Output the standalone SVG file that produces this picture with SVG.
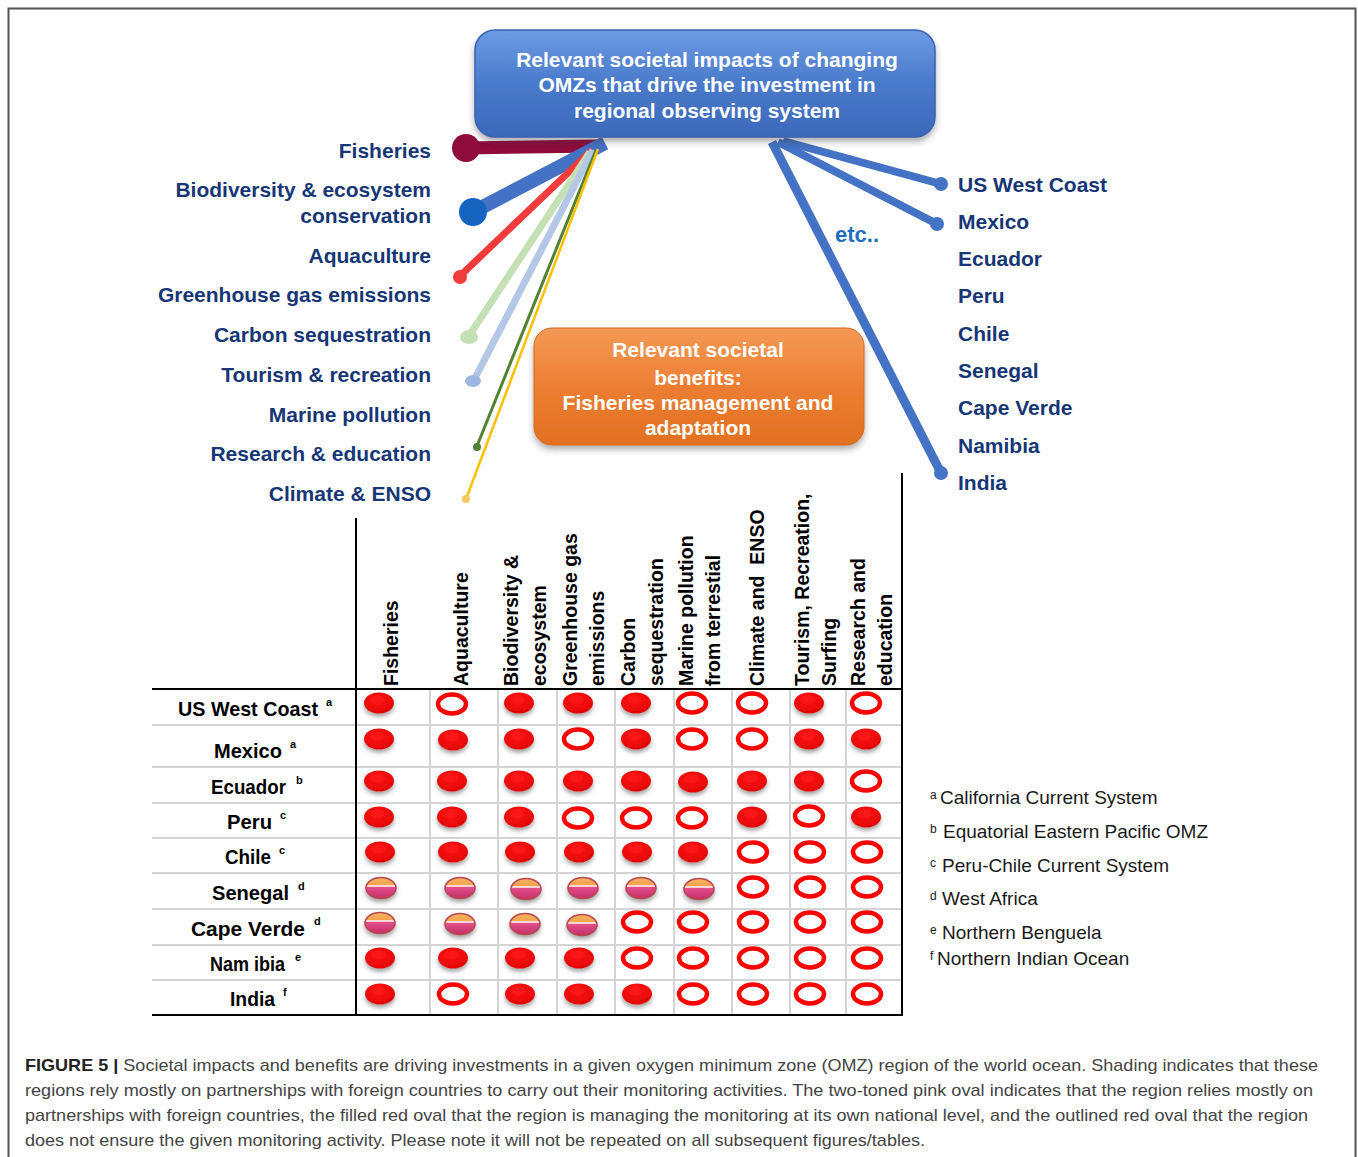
<svg xmlns="http://www.w3.org/2000/svg" xmlns:xlink="http://www.w3.org/1999/xlink" width="1358" height="1157" viewBox="0 0 1358 1157">
<defs>
<style>
.lab{font-family:"Liberation Sans",Arial,sans-serif;font-weight:bold;font-size:21px;fill:#173676}
.box{font-family:"Liberation Sans",Arial,sans-serif;font-weight:bold;font-size:21px;fill:#ffffff;text-anchor:middle}
.hd{font-family:"Liberation Sans",Arial,sans-serif;font-weight:bold;font-size:19.5px;fill:#000}
.row{font-family:"Liberation Sans",Arial,sans-serif;font-weight:bold;font-size:21px;fill:#000}
.sup{font-family:"Liberation Sans",Arial,sans-serif;font-weight:bold;font-size:11px;fill:#000}
.fn{font-family:"Liberation Sans",Arial,sans-serif;font-size:19px;fill:#1a1a1a}
.fns{font-family:"Liberation Sans",Arial,sans-serif;font-size:12px;fill:#1a1a1a}
.cap{font-family:"Liberation Sans",Arial,sans-serif;font-size:17px;fill:#444}
.grid{stroke:#d4d4d4;stroke-width:2}
.rule{stroke:#000;stroke-width:2}
</style>
<linearGradient id="gBlue" x1="0" y1="0" x2="0" y2="1">
<stop offset="0" stop-color="#6C9BE3"/><stop offset="0.5" stop-color="#4A7ACB"/><stop offset="1" stop-color="#3C68BA"/>
</linearGradient>
<linearGradient id="gOr" x1="0" y1="0" x2="0" y2="1">
<stop offset="0" stop-color="#F39A55"/><stop offset="0.5" stop-color="#EC7E33"/><stop offset="1" stop-color="#E2701F"/>
</linearGradient>
<linearGradient id="gPink" x1="0" y1="0" x2="0" y2="1">
<stop offset="0" stop-color="#F4B460"/><stop offset="0.36" stop-color="#F3A24C"/>
<stop offset="0.37" stop-color="#FCE0E0"/><stop offset="0.45" stop-color="#F8C9D2"/>
<stop offset="0.46" stop-color="#E3508A"/><stop offset="1" stop-color="#C42E66"/>
</linearGradient>
<radialGradient id="gRed" cx="0.45" cy="0.35" r="0.7">
<stop offset="0" stop-color="#FF1A1A"/><stop offset="1" stop-color="#E00000"/>
</radialGradient>
<filter id="sh" x="-30%" y="-30%" width="160%" height="180%">
<feDropShadow dx="0" dy="3" stdDeviation="2" flood-color="#555" flood-opacity="0.55"/>
</filter>
<filter id="bsh" x="-10%" y="-20%" width="120%" height="150%">
<feDropShadow dx="0" dy="4" stdDeviation="3" flood-color="#333" flood-opacity="0.4"/>
</filter>
<g id="F"><ellipse cx="0" cy="0" rx="15" ry="10.5" fill="url(#gRed)" filter="url(#sh)"/></g>
<g id="O"><ellipse cx="0" cy="0" rx="14" ry="9.5" fill="#fff" stroke="#FF0000" stroke-width="4.5"/></g>
<g id="P"><ellipse cx="0" cy="0" rx="15" ry="10.5" fill="url(#gPink)" stroke="#B84650" stroke-width="1.5" filter="url(#sh)"/></g>
</defs>
<rect x="0" y="0" width="1358" height="1157" fill="#fff"/>
<rect x="8.5" y="8.5" width="1347" height="1170" fill="none" stroke="#555" stroke-width="2"/>

<g id="connectors">
<line x1="466" y1="148" x2="598" y2="146" stroke="#8E0B3C" stroke-width="13"/>
<circle cx="466" cy="148" r="14" fill="#8E0B3C"/>
<line x1="605" y1="143" x2="473" y2="212" stroke="#4472C4" stroke-width="14"/>
<circle cx="473" cy="212" r="14" fill="#1565C0"/>
<line x1="592" y1="150" x2="460" y2="276" stroke="#F23B3B" stroke-width="7"/>
<circle cx="460" cy="277" r="7" fill="#F23B3B"/>
<line x1="590" y1="152" x2="469" y2="336" stroke="#C5E0B4" stroke-width="7"/>
<ellipse cx="469" cy="337" rx="9" ry="7" fill="#C5E0B4"/>
<line x1="593" y1="150" x2="474" y2="380" stroke="#B4C7E7" stroke-width="7"/>
<ellipse cx="473" cy="381" rx="8" ry="6" fill="#9FB6E0"/>
<line x1="596" y1="150" x2="477" y2="446" stroke="#548235" stroke-width="3"/>
<circle cx="477" cy="447" r="4" fill="#548235"/>
<line x1="598" y1="149" x2="466" y2="499" stroke="#FFC000" stroke-width="2.5"/>
<circle cx="466" cy="499" r="4" fill="#F8C860"/>
<line x1="783" y1="141" x2="941" y2="184" stroke="#4472C4" stroke-width="8"/>
<circle cx="941" cy="184" r="7" fill="#4472C4"/>
<line x1="778" y1="142" x2="937" y2="224" stroke="#4472C4" stroke-width="8"/>
<circle cx="937" cy="224" r="7" fill="#4472C4"/>
<line x1="772" y1="142" x2="941" y2="473" stroke="#4472C4" stroke-width="9"/>
<circle cx="941" cy="473" r="7" fill="#4472C4"/>
</g>

<g id="impacts-box">
<rect x="475" y="30" width="460" height="107" rx="20" fill="url(#gBlue)" stroke="#3A63B0" stroke-width="1.5" filter="url(#bsh)"/>
<text class="box" x="707" y="67">Relevant societal impacts of changing</text>
<text class="box" x="707" y="92">OMZs that drive the investment in</text>
<text class="box" x="707" y="118">regional observing system</text>
</g>

<g id="benefits-box">
<rect x="534" y="328" width="330" height="117" rx="18" fill="url(#gOr)" stroke="#D46A1C" stroke-width="1" filter="url(#bsh)"/>
<text class="box" x="698" y="357">Relevant societal</text>
<text class="box" x="698" y="385">benefits:</text>
<text class="box" x="698" y="410">Fisheries management and</text>
<text class="box" x="698" y="435">adaptation</text>
</g>

<g id="impact-labels" text-anchor="end">
<text class="lab" x="431" y="158">Fisheries</text>
<text class="lab" x="431" y="197">Biodiversity &amp; ecosystem</text>
<text class="lab" x="431" y="223">conservation</text>
<text class="lab" x="431" y="263">Aquaculture</text>
<text class="lab" x="431" y="302">Greenhouse gas emissions</text>
<text class="lab" x="431" y="342">Carbon sequestration</text>
<text class="lab" x="431" y="382">Tourism &amp; recreation</text>
<text class="lab" x="431" y="422">Marine pollution</text>
<text class="lab" x="431" y="461">Research &amp; education</text>
<text class="lab" x="431" y="501">Climate &amp; ENSO</text>
</g>

<g id="region-labels">
<text class="lab" x="958" y="192">US West Coast</text>
<text class="lab" x="958" y="229">Mexico</text>
<text class="lab" x="958" y="266">Ecuador</text>
<text class="lab" x="958" y="303">Peru</text>
<text class="lab" x="958" y="341">Chile</text>
<text class="lab" x="958" y="378">Senegal</text>
<text class="lab" x="958" y="415">Cape Verde</text>
<text class="lab" x="958" y="453">Namibia</text>
<text class="lab" x="958" y="490">India</text>
<text x="835" y="242" font-family="Liberation Sans, Arial, sans-serif" font-weight="bold" font-size="22" fill="#1F6FC0">etc..</text>
</g>

<g id="table">
<g class="grid">
<line x1="152" y1="725" x2="902" y2="725"/>
<line x1="152" y1="767" x2="902" y2="767"/>
<line x1="152" y1="803" x2="902" y2="803"/>
<line x1="152" y1="838" x2="902" y2="838"/>
<line x1="152" y1="873" x2="902" y2="873"/>
<line x1="152" y1="909" x2="902" y2="909"/>
<line x1="152" y1="945" x2="902" y2="945"/>
<line x1="152" y1="980" x2="902" y2="980"/>
<line x1="430" y1="689" x2="430" y2="1015"/>
<line x1="498" y1="689" x2="498" y2="1015"/>
<line x1="557" y1="689" x2="557" y2="1015"/>
<line x1="615" y1="689" x2="615" y2="1015"/>
<line x1="674" y1="689" x2="674" y2="1015"/>
<line x1="732" y1="689" x2="732" y2="1015"/>
<line x1="790" y1="689" x2="790" y2="1015"/>
<line x1="846" y1="689" x2="846" y2="1015"/>
</g>
<g class="rule">
<line x1="152" y1="689" x2="902" y2="689"/>
<line x1="152" y1="1015" x2="903" y2="1015"/>
<line x1="356" y1="518" x2="356" y2="1016"/>
<line x1="902" y1="473" x2="902" y2="1016"/>
</g>
<g id="headers">
<text class="hd" transform="translate(398,686) rotate(-90)">Fisheries</text>
<text class="hd" transform="translate(468,686) rotate(-90)">Aquaculture</text>
<text class="hd" transform="translate(518,686) rotate(-90)">Biodiversity &amp;</text>
<text class="hd" transform="translate(546,686) rotate(-90)">ecosystem</text>
<text class="hd" transform="translate(577,686) rotate(-90)">Greenhouse gas</text>
<text class="hd" transform="translate(604,686) rotate(-90)">emissions</text>
<text class="hd" transform="translate(635,686) rotate(-90)">Carbon</text>
<text class="hd" transform="translate(663,686) rotate(-90)">sequestration</text>
<text class="hd" transform="translate(693,686) rotate(-90)">Marine pollution</text>
<text class="hd" transform="translate(720,686) rotate(-90)">from terrestial</text>
<text class="hd" transform="translate(764,686) rotate(-90)" xml:space="preserve">Climate and  ENSO</text>
<text class="hd" transform="translate(809,686) rotate(-90)">Tourism, Recreation,</text>
<text class="hd" transform="translate(836,686) rotate(-90)">Surfing</text>
<text class="hd" transform="translate(865,686) rotate(-90)">Research and</text>
<text class="hd" transform="translate(892,686) rotate(-90)">education</text>
</g>
<g id="rows">
<text class="row" x="178" y="716" textLength="140" lengthAdjust="spacingAndGlyphs">US West Coast</text><text class="sup" x="326" y="706">a</text>
<text class="row" x="214" y="758" textLength="68" lengthAdjust="spacingAndGlyphs">Mexico</text><text class="sup" x="290" y="748">a</text>
<text class="row" x="211" y="794" textLength="75" lengthAdjust="spacingAndGlyphs">Ecuador</text><text class="sup" x="296" y="784">b</text>
<text class="row" x="227" y="829" textLength="45" lengthAdjust="spacingAndGlyphs">Peru</text><text class="sup" x="280" y="819">c</text>
<text class="row" x="225" y="864" textLength="46" lengthAdjust="spacingAndGlyphs">Chile</text><text class="sup" x="279" y="854">c</text>
<text class="row" x="212" y="900" textLength="77" lengthAdjust="spacingAndGlyphs">Senegal</text><text class="sup" x="298" y="890">d</text>
<text class="row" x="191" y="936" textLength="114" lengthAdjust="spacingAndGlyphs">Cape Verde</text><text class="sup" x="314" y="925">d</text>
<text class="row" x="210" y="971" textLength="75" lengthAdjust="spacingAndGlyphs">Nam ibia</text><text class="sup" x="295" y="961">e</text>
<text class="row" x="230" y="1006" textLength="45" lengthAdjust="spacingAndGlyphs">India</text><text class="sup" x="283" y="996">f</text>
</g>
<g id="ovals">
<use href="#F" x="379" y="703"/><use href="#O" x="452" y="704"/><use href="#F" x="519" y="703"/><use href="#F" x="578" y="703"/><use href="#F" x="636" y="703"/><use href="#O" x="692" y="703"/><use href="#O" x="752" y="703"/><use href="#F" x="809" y="703"/><use href="#O" x="866" y="703"/>
<use href="#F" x="379" y="739"/><use href="#F" x="453" y="740"/><use href="#F" x="519" y="739"/><use href="#O" x="578" y="739"/><use href="#F" x="636" y="739"/><use href="#O" x="692" y="739"/><use href="#O" x="752" y="739"/><use href="#F" x="809" y="739"/><use href="#F" x="866" y="739"/>
<use href="#F" x="379" y="781"/><use href="#F" x="452" y="781"/><use href="#F" x="519" y="781"/><use href="#F" x="578" y="781"/><use href="#F" x="636" y="781"/><use href="#F" x="693" y="782"/><use href="#F" x="752" y="781"/><use href="#F" x="809" y="781"/><use href="#O" x="866" y="781"/>
<use href="#F" x="379" y="817"/><use href="#F" x="452" y="817"/><use href="#F" x="519" y="817"/><use href="#O" x="578" y="818"/><use href="#O" x="636" y="818"/><use href="#O" x="692" y="818"/><use href="#F" x="752" y="817"/><use href="#O" x="809" y="816"/><use href="#F" x="866" y="817"/>
<use href="#F" x="380" y="852"/><use href="#F" x="453" y="852"/><use href="#F" x="520" y="852"/><use href="#F" x="579" y="852"/><use href="#F" x="637" y="852"/><use href="#F" x="693" y="852"/><use href="#O" x="753" y="852"/><use href="#O" x="810" y="852"/><use href="#O" x="867" y="852"/>
<use href="#P" x="381" y="888"/><use href="#P" x="460" y="888"/><use href="#P" x="526" y="889"/><use href="#P" x="583" y="888"/><use href="#P" x="641" y="888"/><use href="#P" x="699" y="889"/><use href="#O" x="753" y="887"/><use href="#O" x="810" y="887"/><use href="#O" x="867" y="887"/>
<use href="#P" x="380" y="923"/><use href="#P" x="460" y="924"/><use href="#P" x="525" y="924"/><use href="#P" x="582" y="925"/><use href="#O" x="637" y="922"/><use href="#O" x="693" y="922"/><use href="#O" x="753" y="922"/><use href="#O" x="810" y="922"/><use href="#O" x="867" y="922"/>
<use href="#F" x="380" y="958"/><use href="#F" x="453" y="958"/><use href="#F" x="520" y="958"/><use href="#F" x="579" y="958"/><use href="#O" x="637" y="958"/><use href="#O" x="693" y="958"/><use href="#O" x="753" y="958"/><use href="#O" x="810" y="958"/><use href="#O" x="867" y="958"/>
<use href="#F" x="380" y="994"/><use href="#O" x="453" y="994"/><use href="#F" x="520" y="994"/><use href="#F" x="579" y="994"/><use href="#F" x="637" y="994"/><use href="#O" x="693" y="994"/><use href="#O" x="753" y="994"/><use href="#O" x="810" y="994"/><use href="#O" x="867" y="994"/>
</g>
</g>

<g id="footnotes">
<text class="fns" x="930" y="799">a</text><text class="fn" x="940" y="804">California Current System</text>
<text class="fns" x="930" y="833">b</text><text class="fn" x="943" y="838">Equatorial Eastern Pacific OMZ</text>
<text class="fns" x="930" y="867">c</text><text class="fn" x="942" y="872">Peru-Chile Current System</text>
<text class="fns" x="930" y="900">d</text><text class="fn" x="942" y="905">West Africa</text>
<text class="fns" x="930" y="934">e</text><text class="fn" x="942" y="939">Northern Benguela</text>
<text class="fns" x="930" y="960">f</text><text class="fn" x="937" y="965">Northern Indian Ocean</text>
</g>

<g id="caption">
<text class="cap" x="25" y="1071" textLength="1293" lengthAdjust="spacingAndGlyphs"><tspan font-weight="bold" fill="#222">FIGURE 5 |</tspan> Societal impacts and benefits are driving investments in a given oxygen minimum zone (OMZ) region of the world ocean. Shading indicates that these</text>
<text class="cap" x="25" y="1096" textLength="1288" lengthAdjust="spacingAndGlyphs">regions rely mostly on partnerships with foreign countries to carry out their monitoring activities. The two-toned pink oval indicates that the region relies mostly on</text>
<text class="cap" x="25" y="1121" textLength="1283" lengthAdjust="spacingAndGlyphs">partnerships with foreign countries, the filled red oval that the region is managing the monitoring at its own national level, and the outlined red oval that the region</text>
<text class="cap" x="25" y="1146" textLength="900" lengthAdjust="spacingAndGlyphs">does not ensure the given monitoring activity. Please note it will not be repeated on all subsequent figures/tables.</text>
</g>
</svg>
